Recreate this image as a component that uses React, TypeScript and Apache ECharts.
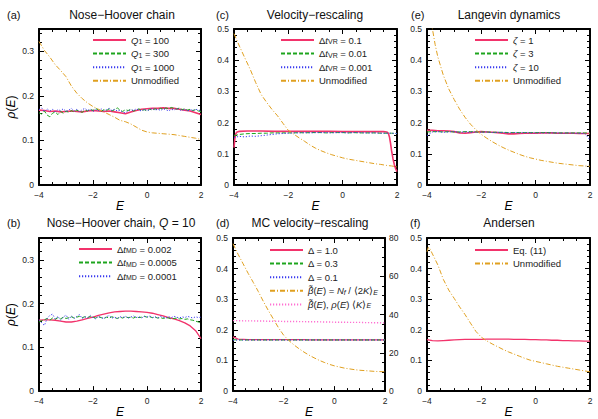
import React, { useEffect, useRef } from 'react';
import * as echarts from 'echarts';

// ---------- shared energy grids ----------
const E_01 = [-4, -3.9, -3.8, -3.7, -3.6, -3.5, -3.4, -3.3, -3.2, -3.1, -3, -2.9, -2.8, -2.7, -2.6, -2.5, -2.4, -2.3, -2.2, -2.1, -2, -1.9, -1.8, -1.7, -1.6, -1.5, -1.4, -1.3, -1.2, -1.1, -1, -0.9, -0.8, -0.7, -0.6, -0.5, -0.4, -0.3, -0.2, -0.1, 0, 0.1, 0.2, 0.3, 0.4, 0.5, 0.6, 0.7, 0.8, 0.9, 1, 1.1, 1.2, 1.3, 1.4, 1.5, 1.6, 1.7, 1.8, 1.9, 2];
const E_02 = [-4, -3.8, -3.6, -3.4, -3.2, -3, -2.8, -2.6, -2.4, -2.2, -2, -1.8, -1.6, -1.4, -1.2, -1, -0.8, -0.6, -0.4, -0.2, 0, 0.2, 0.4, 0.6, 0.8, 1, 1.2, 1.4, 1.6, 1.8, 2];

// ---------- (a) Nose-Hoover chain ----------
const A_Q100 = [0.168, 0.167, 0.165, 0.166, 0.164, 0.165, 0.166, 0.165, 0.164, 0.166, 0.167, 0.166, 0.165, 0.166, 0.164, 0.162, 0.16, 0.164, 0.167, 0.17, 0.171, 0.172, 0.172, 0.173, 0.172, 0.172, 0.17, 0.168, 0.166, 0.162, 0.158];
const A_Q300 = [0.162, 0.159, 0.166, 0.157, 0.153, 0.161, 0.164, 0.158, 0.165, 0.161, 0.166, 0.163, 0.167, 0.164, 0.168, 0.165, 0.163, 0.168, 0.166, 0.17, 0.167, 0.172, 0.168, 0.165, 0.169, 0.167, 0.171, 0.166, 0.169, 0.173, 0.168, 0.165, 0.169, 0.167, 0.17, 0.166, 0.168, 0.171, 0.167, 0.169, 0.166, 0.17, 0.168, 0.171, 0.169, 0.172, 0.17, 0.173, 0.171, 0.174, 0.172, 0.17, 0.173, 0.169, 0.171, 0.168, 0.17, 0.167, 0.169, 0.166, 0.165];
const A_Q1000 = [0.169, 0.173, 0.165, 0.171, 0.166, 0.17, 0.164, 0.169, 0.167, 0.171, 0.165, 0.168, 0.172, 0.166, 0.17, 0.164, 0.169, 0.172, 0.167, 0.17, 0.165, 0.169, 0.167, 0.171, 0.166, 0.169, 0.172, 0.167, 0.17, 0.166, 0.168, 0.163, 0.162, 0.166, 0.169, 0.167, 0.171, 0.168, 0.166, 0.17, 0.167, 0.169, 0.172, 0.168, 0.17, 0.167, 0.171, 0.169, 0.166, 0.17, 0.168, 0.172, 0.169, 0.167, 0.17, 0.166, 0.169, 0.167, 0.17, 0.168, 0.167];
const A_UNMOD = [0.322, 0.302, 0.287, 0.27, 0.257, 0.243, 0.222, 0.206, 0.194, 0.184, 0.176, 0.17, 0.164, 0.158, 0.152, 0.145, 0.142, 0.137, 0.13, 0.123, 0.119, 0.117, 0.116, 0.115, 0.114, 0.113, 0.111, 0.109, 0.107, 0.105, 0.102];

// ---------- (b) Nose-Hoover chain, Q = 10 ----------
const B_DT002 = [0.162, 0.163, 0.163, 0.162, 0.16, 0.158, 0.158, 0.16, 0.163, 0.166, 0.169, 0.173, 0.176, 0.179, 0.181, 0.182, 0.183, 0.183, 0.182, 0.181, 0.18, 0.178, 0.175, 0.172, 0.168, 0.165, 0.161, 0.156, 0.149, 0.138, 0.12];
const B_DT0005 = [0.158, 0.161, 0.163, 0.166, 0.162, 0.167, 0.164, 0.168, 0.165, 0.169, 0.166, 0.168, 0.17, 0.167, 0.169, 0.171, 0.168, 0.17, 0.168, 0.171, 0.169, 0.167, 0.17, 0.168, 0.166, 0.169, 0.167, 0.17, 0.168, 0.166, 0.169, 0.167, 0.17, 0.168, 0.169, 0.167, 0.17, 0.168, 0.169, 0.171, 0.169, 0.17, 0.168, 0.169, 0.167, 0.168, 0.166, 0.168, 0.167, 0.165, 0.166, 0.167, 0.165, 0.166, 0.164, 0.165, 0.163, 0.162, 0.16, 0.158, 0.155];
const B_DT0001 = [0.163, 0.156, 0.15, 0.166, 0.173, 0.176, 0.165, 0.171, 0.162, 0.169, 0.174, 0.164, 0.172, 0.166, 0.171, 0.175, 0.166, 0.17, 0.167, 0.173, 0.168, 0.165, 0.171, 0.168, 0.166, 0.17, 0.173, 0.167, 0.169, 0.166, 0.17, 0.168, 0.171, 0.167, 0.169, 0.172, 0.168, 0.17, 0.167, 0.171, 0.169, 0.172, 0.168, 0.17, 0.167, 0.171, 0.169, 0.167, 0.17, 0.168, 0.171, 0.169, 0.167, 0.17, 0.168, 0.171, 0.169, 0.167, 0.17, 0.168, 0.169];

// ---------- (c) Velocity-rescaling ----------
const C_VR01_E = [-4, -3.97, -3.94, -3.9, -3.8, -3.5, -3, -2.5, -2, -1.5, -1, -0.5, 0, 0.5, 1, 1.5, 1.62, 1.68, 1.72, 1.76, 1.8, 1.85, 1.9, 1.95, 2];
const C_VR01 = [0.12, 0.148, 0.163, 0.169, 0.172, 0.173, 0.173, 0.172, 0.172, 0.172, 0.172, 0.172, 0.171, 0.171, 0.171, 0.171, 0.17, 0.166, 0.155, 0.135, 0.11, 0.085, 0.066, 0.052, 0.043];
const C_VR001 = [0.158, 0.162, 0.164, 0.165, 0.165, 0.166, 0.166, 0.167, 0.167, 0.167, 0.167, 0.167, 0.168, 0.167, 0.168, 0.168, 0.168, 0.167, 0.168, 0.168, 0.168, 0.167, 0.168, 0.167, 0.167, 0.167, 0.167, 0.166, 0.166, 0.166, 0.165];
const C_VR0001 = [0.152, 0.156, 0.154, 0.157, 0.156, 0.158, 0.16, 0.162, 0.164, 0.165, 0.166, 0.167, 0.167, 0.168, 0.167, 0.168, 0.168, 0.168, 0.167, 0.168, 0.168, 0.167, 0.168, 0.168, 0.167, 0.167, 0.167, 0.166, 0.166, 0.166, 0.165];
const C_UNMOD = [0.485, 0.445, 0.407, 0.37, 0.328, 0.29, 0.265, 0.242, 0.222, 0.198, 0.175, 0.163, 0.151, 0.14, 0.128, 0.118, 0.11, 0.103, 0.097, 0.092, 0.087, 0.083, 0.08, 0.077, 0.074, 0.071, 0.068, 0.066, 0.063, 0.061, 0.058];

// ---------- (e) Langevin dynamics ----------
const E_Z1 = [0.175, 0.175, 0.174, 0.174, 0.173, 0.171, 0.167, 0.166, 0.168, 0.17, 0.171, 0.17, 0.169, 0.168, 0.166, 0.164, 0.164, 0.165, 0.166, 0.166, 0.166, 0.167, 0.167, 0.167, 0.166, 0.166, 0.166, 0.166, 0.165, 0.165, 0.165];
const E_Z3 = [0.17, 0.171, 0.171, 0.17, 0.171, 0.17, 0.17, 0.171, 0.171, 0.17, 0.17, 0.17, 0.169, 0.169, 0.169, 0.168, 0.168, 0.168, 0.168, 0.168, 0.168, 0.168, 0.168, 0.167, 0.167, 0.167, 0.167, 0.167, 0.167, 0.167, 0.166];
const E_Z10 = [0.158, 0.17, 0.171, 0.169, 0.17, 0.171, 0.169, 0.17, 0.169, 0.17, 0.169, 0.17, 0.168, 0.169, 0.168, 0.167, 0.168, 0.167, 0.168, 0.167, 0.167, 0.167, 0.167, 0.167, 0.167, 0.166, 0.167, 0.166, 0.166, 0.165, 0.145];
const E_UNMOD_E = [-4, -3.9, -3.8, -3.7, -3.6, -3.4, -3.2, -3, -2.8, -2.6, -2.4, -2.2, -2, -1.8, -1.6, -1.4, -1.2, -1, -0.8, -0.6, -0.4, -0.2, 0, 0.2, 0.4, 0.6, 0.8, 1, 1.2, 1.4, 1.6, 1.8, 2];
const E_UNMOD = [0.62, 0.56, 0.5, 0.45, 0.41, 0.352, 0.308, 0.274, 0.243, 0.217, 0.195, 0.177, 0.162, 0.15, 0.139, 0.129, 0.12, 0.112, 0.105, 0.098, 0.092, 0.087, 0.083, 0.079, 0.076, 0.073, 0.07, 0.068, 0.066, 0.064, 0.062, 0.061, 0.06];

// ---------- (d) MC velocity-rescaling ----------
const D_D10 = [0.177, 0.17, 0.169, 0.168, 0.168, 0.168, 0.168, 0.168, 0.168, 0.168, 0.168, 0.168, 0.168, 0.168, 0.168, 0.167, 0.167, 0.167, 0.167, 0.167, 0.167, 0.167, 0.167, 0.167, 0.167, 0.167, 0.167, 0.167, 0.167, 0.167, 0.167];
const D_D03 = [0.168, 0.167, 0.167, 0.167, 0.167, 0.167, 0.167, 0.167, 0.167, 0.167, 0.167, 0.167, 0.167, 0.167, 0.167, 0.167, 0.167, 0.167, 0.167, 0.167, 0.167, 0.167, 0.167, 0.167, 0.167, 0.167, 0.167, 0.167, 0.167, 0.167, 0.167];
const D_D01 = [0.166, 0.167, 0.167, 0.167, 0.167, 0.167, 0.167, 0.167, 0.167, 0.167, 0.167, 0.167, 0.167, 0.167, 0.167, 0.167, 0.167, 0.167, 0.167, 0.167, 0.167, 0.167, 0.167, 0.167, 0.167, 0.167, 0.167, 0.167, 0.167, 0.167, 0.167];
const D_BETA = [77, 71.5, 66.5, 61.5, 56.8, 52, 46.8, 42, 37.5, 33, 29.2, 26.5, 24.2, 22.2, 20.4, 18.8, 17.4, 16.1, 15, 14, 13.2, 12.6, 12, 11.6, 11.2, 10.9, 10.7, 10.5, 10.3, 10.2, 10.1];
const D_BETA2 = [36.8, 36.8, 36.7, 36.7, 36.7, 36.6, 36.6, 36.5, 36.5, 36.5, 36.4, 36.4, 36.4, 36.3, 36.3, 36.2, 36.2, 36.2, 36.1, 36.1, 36.0, 36.0, 36.0, 35.9, 35.9, 35.9, 35.8, 35.8, 35.7, 35.7, 35.6];

// ---------- (f) Andersen ----------
const F_EQ11 = [0.168, 0.165, 0.164, 0.165, 0.166, 0.167, 0.168, 0.169, 0.169, 0.169, 0.169, 0.17, 0.17, 0.17, 0.17, 0.17, 0.169, 0.169, 0.169, 0.168, 0.168, 0.167, 0.167, 0.166, 0.166, 0.165, 0.165, 0.164, 0.164, 0.163, 0.163];
const F_UNMOD_E = [-4, -3.95, -3.9, -3.8, -3.6, -3.4, -3.2, -3, -2.8, -2.6, -2.4, -2.2, -2, -1.8, -1.6, -1.4, -1.2, -1, -0.8, -0.6, -0.4, -0.2, 0, 0.2, 0.4, 0.6, 0.8, 1, 1.2, 1.4, 1.6, 1.8, 2];
const F_UNMOD = [0.455, 0.47, 0.466, 0.448, 0.412, 0.365, 0.33, 0.303, 0.275, 0.25, 0.222, 0.195, 0.176, 0.164, 0.154, 0.145, 0.136, 0.128, 0.121, 0.114, 0.107, 0.101, 0.097, 0.093, 0.089, 0.085, 0.081, 0.078, 0.075, 0.072, 0.069, 0.066, 0.063];

// ---------- tick values ----------
const X_MIN = -4, X_MAX = 2, X_STEP = 2;
const Y_TOP_NH = 0.35, Y_TOP = 0.5, Y_STEP = 0.1;
const R_MAX = 80, R_STEP = 20;

const FONT = '"Liberation Sans", Arial, Helvetica, sans-serif';
const RED = '#f2336b';
const GREEN = '#1ea51e';
const BLUE = '#3a3af0';
const ORANGE = '#e0a020';
const PINK = '#ff70d2';
const DASH = [4, 2];
const DOT = [1.2, 1.8];
const DASHDOT = [5, 2, 1, 2];

// grid order: a, c, e, b, d, f
const GRIDS = [
  { left: 39, top: 29, width: 162, height: 156 },
  { left: 234, top: 29, width: 163, height: 156 },
  { left: 427, top: 29, width: 163, height: 156 },
  { left: 39, top: 238, width: 162, height: 156 },
  { left: 233, top: 238, width: 152, height: 156 },
  { left: 427, top: 238, width: 163, height: 156 },
];
const Y_MAXES = [Y_TOP_NH, Y_TOP, Y_TOP, Y_TOP_NH, Y_TOP, Y_TOP];

const LABELS: Record<string, string> = {
  'Q1 = 100': '{i|Q}{s|1} = 100',
  'Q1 = 300': '{i|Q}{s|1} = 300',
  'Q1 = 1000': '{i|Q}{s|1} = 1000',
  'Unmodified': 'Unmodified',
  'dtMD = 0.002': 'Δ{i|t}{s|MD} = 0.002',
  'dtMD = 0.0005': 'Δ{i|t}{s|MD} = 0.0005',
  'dtMD = 0.0001': 'Δ{i|t}{s|MD} = 0.0001',
  'dtVR = 0.1': 'Δ{i|t}{s|VR} = 0.1',
  'dtVR = 0.01': 'Δ{i|t}{s|VR} = 0.01',
  'dtVR = 0.001': 'Δ{i|t}{s|VR} = 0.001',
  'zeta = 1': '{i|ζ} = 1',
  'zeta = 3': '{i|ζ} = 3',
  'zeta = 10': '{i|ζ} = 10',
  'Delta = 1.0': 'Δ = 1.0',
  'Delta = 0.3': 'Δ = 0.3',
  'Delta = 0.1': 'Δ = 0.1',
  'beta1': '{i|β\u0303}({i|E}) = {i|N}{si|f} / ⟨2{i|K}⟩{si|E}',
  'beta2': '{i|β\u0303}({i|E}), {i|ρ}({i|E}) ⟨{i|K}⟩{si|E}',
  'Eq. (11)': 'Eq. (11)',
};

const RICH = {
  i: { fontStyle: 'italic', fontSize: 9.5, lineHeight: 10, fontFamily: FONT, color: '#222' },
  s: { fontSize: 7, lineHeight: 4, verticalAlign: 'bottom', fontFamily: FONT, color: '#222' },
  si: { fontSize: 7, fontStyle: 'italic', lineHeight: 4, verticalAlign: 'bottom', fontFamily: FONT, color: '#222' },
};

function ser(name: string, grid: number, xs: number[], ys: number[], color: string, width: number, type: any, right = false) {
  return {
    type: 'line',
    name,
    xAxisIndex: 2 * grid,
    yAxisIndex: 2 * grid + (right ? 1 : 0),
    data: xs.map((x, i) => [x, ys[i]]),
    symbol: 'none',
    showSymbol: false,
    clip: true,
    silent: true,
    lineStyle: { color, width, type },
    itemStyle: { color },
  };
}

function buildOption() {
  const xAxis: any[] = [];
  const yAxis: any[] = [];
  const tickCommon = {
    splitLine: { show: false },
    axisLine: { show: true, onZero: false, lineStyle: { color: '#000', width: 2 } },
    axisTick: { show: true, inside: true, length: 5, lineStyle: { color: '#000', width: 1 } },
  };
  GRIDS.forEach((_, g) => {
    const xBase = {
      type: 'value', gridIndex: g, min: X_MIN, max: X_MAX, interval: X_STEP, ...tickCommon,
      minorTick: { show: true, splitNumber: 4, length: 3, lineStyle: { color: '#000', width: 1 } },
    };
    xAxis.push({
      ...xBase, position: 'bottom',
      axisLabel: {
        show: true, margin: 5, fontSize: 8.5, fontFamily: FONT, color: '#222',
        formatter: (v: number) => (v < 0 ? '\u2212' + Math.abs(v) : String(v)),
      },
      name: 'E', nameLocation: 'middle', nameGap: 13,
      nameTextStyle: { fontStyle: 'italic', fontSize: 12, fontFamily: FONT, color: '#000' },
    });
    xAxis.push({ ...xBase, position: 'top', axisLabel: { show: false } });

    const yMax = Y_MAXES[g];
    const yBase = {
      type: 'value', gridIndex: g, min: 0, max: yMax, interval: Y_STEP, ...tickCommon,
      minorTick: { show: true, splitNumber: 5, length: 3, lineStyle: { color: '#000', width: 1 } },
    };
    const left: any = {
      ...yBase, position: 'left',
      axisLabel: {
        show: true, margin: 5, fontSize: 8.5, fontFamily: FONT, color: '#222',
        showMaxLabel: yMax !== Y_TOP_NH,
        formatter: (v: number) => String(Math.round(v * 100) / 100),
      },
    };
    if (g === 0 || g === 3) {
      left.name = '{i|ρ}({i|E})';
      left.nameLocation = 'middle';
      left.nameGap = 22;
      left.nameRotate = 90;
      left.nameTextStyle = {
        fontSize: 12, fontFamily: FONT, color: '#000',
        rich: { i: { fontStyle: 'italic', fontSize: 12, fontFamily: FONT, color: '#000' } },
      };
    }
    yAxis.push(left);
    if (g === 4) {
      yAxis.push({
        type: 'value', gridIndex: g, min: 0, max: R_MAX, interval: R_STEP, ...tickCommon, position: 'right',
        minorTick: { show: true, splitNumber: 4, length: 3, lineStyle: { color: '#000', width: 1 } },
        axisLabel: { show: true, margin: 4, fontSize: 8.5, fontFamily: FONT, color: '#222' },
      });
    } else {
      yAxis.push({ ...yBase, position: 'right', axisLabel: { show: false } });
    }
  });

  const series = [
    // (a)
    ser('Q1 = 100', 0, E_02, A_Q100, RED, 1.6, 'solid'),
    ser('Q1 = 300', 0, E_01, A_Q300, GREEN, 1, DASH),
    ser('Q1 = 1000', 0, E_01, A_Q1000, BLUE, 1, DOT),
    ser('Unmodified', 0, E_02, A_UNMOD, ORANGE, 1, DASHDOT),
    // (c)
    ser('dtVR = 0.1', 1, C_VR01_E, C_VR01, RED, 1.6, 'solid'),
    ser('dtVR = 0.01', 1, E_02, C_VR001, GREEN, 1, DASH),
    ser('dtVR = 0.001', 1, E_02, C_VR0001, BLUE, 1, DOT),
    ser('Unmodified', 1, E_02, C_UNMOD, ORANGE, 1, DASHDOT),
    // (e)
    ser('zeta = 1', 2, E_02, E_Z1, RED, 1.6, 'solid'),
    ser('zeta = 3', 2, E_02, E_Z3, GREEN, 1, DASH),
    ser('zeta = 10', 2, E_02, E_Z10, BLUE, 1, DOT),
    ser('Unmodified', 2, E_UNMOD_E, E_UNMOD, ORANGE, 1, DASHDOT),
    // (b)
    ser('dtMD = 0.002', 3, E_02, B_DT002, RED, 1.3, 'solid'),
    ser('dtMD = 0.0005', 3, E_01, B_DT0005, GREEN, 1, DASH),
    ser('dtMD = 0.0001', 3, E_01, B_DT0001, BLUE, 1, DOT),
    // (d)
    ser('Delta = 1.0', 4, E_02, D_D10, RED, 1.3, 'solid'),
    ser('Delta = 0.3', 4, E_02, D_D03, GREEN, 1, DASH),
    ser('Delta = 0.1', 4, E_02, D_D01, BLUE, 1, DOT),
    ser('beta1', 4, E_02, D_BETA, ORANGE, 1, DASHDOT, true),
    ser('beta2', 4, E_02, D_BETA2, PINK, 1.4, DOT, true),
    // (f)
    ser('Eq. (11)', 5, E_02, F_EQ11, RED, 1.3, 'solid'),
    ser('Unmodified', 5, F_UNMOD_E, F_UNMOD, ORANGE, 1, DASHDOT),
  ];

  const legendBase = {
    orient: 'vertical', itemWidth: 33, itemHeight: 10, itemGap: 3.6, selectedMode: false,
    padding: 0,
    itemStyle: { opacity: 0, borderWidth: 0, color: 'transparent', borderColor: 'transparent' },
    textStyle: { fontSize: 9.5, lineHeight: 10, fontFamily: FONT, color: '#222', rich: RICH },
    formatter: (n: string) => LABELS[n] ?? n,
  };
  const legend = [
    { ...legendBase, left: 92, top: 35, data: ['Q1 = 100', 'Q1 = 300', 'Q1 = 1000', 'Unmodified'] },
    { ...legendBase, left: 280, top: 35, data: ['dtVR = 0.1', 'dtVR = 0.01', 'dtVR = 0.001', 'Unmodified'] },
    { ...legendBase, left: 474, top: 35, data: ['zeta = 1', 'zeta = 3', 'zeta = 10', 'Unmodified'] },
    { ...legendBase, left: 78, top: 244, data: ['dtMD = 0.002', 'dtMD = 0.0005', 'dtMD = 0.0001'] },
    { ...legendBase, left: 269, top: 245, data: ['Delta = 1.0', 'Delta = 0.3', 'Delta = 0.1', 'beta1', 'beta2'] },
    { ...legendBase, left: 474, top: 245, data: ['Eq. (11)', 'Unmodified'] },
  ];

  const titles = [
    { x: 122, y: 15, t: 'Nose\u2212Hoover chain' },
    { x: 315, y: 15, t: 'Velocity\u2212rescaling' },
    { x: 509, y: 15, t: 'Langevin dynamics' },
    { x: 121, y: 223, t: 'Nose\u2212Hoover chain, {i|Q} = 10' },
    { x: 310, y: 223, t: 'MC velocity\u2212rescaling' },
    { x: 509, y: 223, t: 'Andersen' },
  ];
  const panelLabels = [
    { x: 7, y: 15, t: '(a)' }, { x: 216, y: 15, t: '(c)' }, { x: 411, y: 15, t: '(e)' },
    { x: 7, y: 223, t: '(b)' }, { x: 216, y: 223, t: '(d)' }, { x: 410, y: 223, t: '(f)' },
  ];
  const graphic: any[] = [];
  titles.forEach((o) => graphic.push({
    type: 'text', x: o.x, y: o.y, silent: true,
    style: {
      text: o.t, fill: '#111', fontSize: 12, fontFamily: FONT,
      align: 'center', textAlign: 'center', verticalAlign: 'middle', textVerticalAlign: 'middle',
      rich: { i: { fontStyle: 'italic', fontSize: 12, fontFamily: FONT, fill: '#111', color: '#111' } },
    },
  }));
  panelLabels.forEach((o) => graphic.push({
    type: 'text', x: o.x, y: o.y, silent: true,
    style: {
      text: o.t, fill: '#111', fontSize: 11, fontFamily: FONT,
      align: 'left', textAlign: 'left', verticalAlign: 'middle', textVerticalAlign: 'middle',
    },
  }));

  return {
    animation: false,
    backgroundColor: '#fff',
    grid: GRIDS.map((g) => ({ ...g, containLabel: false })),
    xAxis, yAxis, series, legend, graphic,
  };
}

export default function App() {
  const ref = useRef<HTMLDivElement>(null);
  useEffect(() => {
    if (!ref.current) return;
    const chart = echarts.init(ref.current, undefined, { renderer: 'svg' });
    chart.setOption(buildOption() as any);
    return () => chart.dispose();
  }, []);
  return <div ref={ref} style={{ position: 'fixed', left: 0, top: 0, width: 598, height: 419, background: '#fff' }} />;
}
